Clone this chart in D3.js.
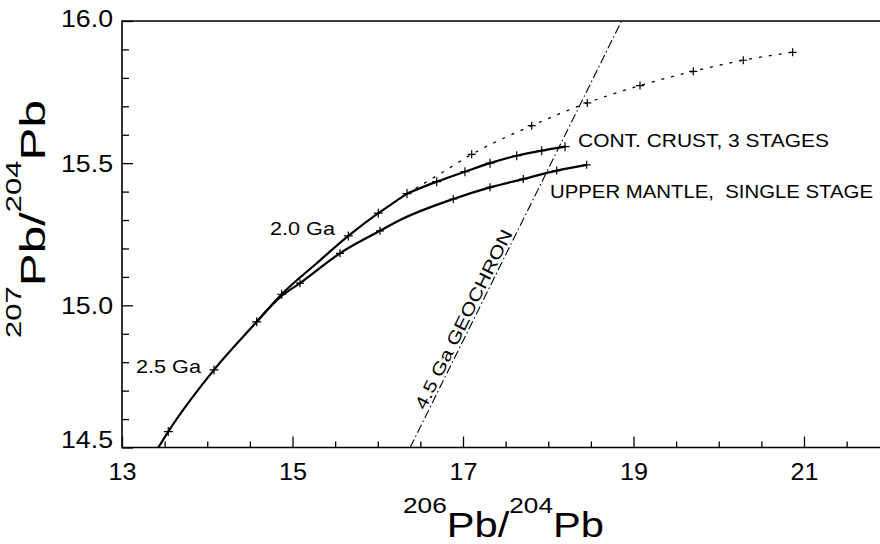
<!DOCTYPE html>
<html><head><meta charset="utf-8">
<script src="https://cdn.jsdelivr.net/npm/d3@7"></script>
<style>
body{margin:0;background:#fff}
svg{display:block}
text{font-family:"Liberation Sans",Arial,Helvetica,sans-serif;fill:#000}
</style>
</head><body>
<svg id="c" width="880" height="544"></svg>
<script>
// ---- axis ticks ----
const xMajor = [13, 15, 17, 19, 21];
const xMinor = [13.5, 14, 14.5, 15.5, 16, 16.5, 17.5, 18, 18.5, 19.5, 20, 20.5, 21.5];
const yMajor = [14.5, 15.0, 15.5, 16.0];
const yMinor = [14.6, 14.7, 14.8, 14.9, 15.1, 15.2, 15.3, 15.4, 15.6, 15.7, 15.8, 15.9];

// ---- continental crust, 3 stages (solid; stage 2 then stage 3) ----
const crustS2X = [13.426, 13.543, 14.079, 14.580, 14.873, 15.284, 15.655, 16.006, 16.261, 16.343];
const crustS2Y = [14.500, 14.556, 14.773, 14.942, 15.039, 15.148, 15.244, 15.324, 15.376, 15.393];
const crustS3X = [16.343, 16.692, 17.023, 17.317, 17.630, 17.923, 18.197];
const crustS3Y = [15.393, 15.435, 15.470, 15.500, 15.526, 15.544, 15.558];
const crustMarkX = [13.543, 14.079, 14.580, 14.873, 15.655, 16.006, 16.343, 16.692, 17.023, 17.317, 17.630, 17.923, 18.197];
const crustMarkY = [14.556, 14.773, 14.942, 15.039, 15.244, 15.324, 15.393, 15.435, 15.470, 15.500, 15.526, 15.544, 15.558];

// ---- stage-2 continuation (dotted) ----
const dotX = [16.343, 16.765, 17.102, 17.806, 18.458, 19.076, 19.701, 20.288, 20.867];
const dotY = [15.393, 15.469, 15.531, 15.632, 15.712, 15.773, 15.823, 15.862, 15.890];
const dotMarkX = [17.102, 17.806, 18.458, 19.076, 19.701, 20.288, 20.867];
const dotMarkY = [15.531, 15.632, 15.712, 15.773, 15.823, 15.862, 15.890];

// ---- upper mantle, single stage (solid) ----
const mantleX = [14.580, 14.873, 15.088, 15.557, 16.026, 16.261, 16.886, 17.317, 17.707, 18.099, 18.451];
const mantleY = [14.942, 15.033, 15.078, 15.183, 15.262, 15.300, 15.374, 15.415, 15.444, 15.474, 15.494];
const mantleMarkX = [15.088, 15.557, 16.026, 16.886, 17.317, 17.707, 18.099, 18.451];
const mantleMarkY = [15.078, 15.183, 15.262, 15.374, 15.415, 15.444, 15.474, 15.494];

// ---- 4.5 Ga geochron ----
const geoX = [16.38, 18.86];
const geoY = [14.50, 16.00];

// ---- scales ----
const svg = d3.select("#c");
const x = d3.scaleLinear().domain([13, 22]).range([122, 122 + 9 * 85.25]);
const y = d3.scaleLinear().domain([14.5, 16.0]).range([447.5, 21]);
const X0 = 122, Y0 = 447.5, YT = 21, XR = 880;

const zip = (a, b) => a.map((v, i) => [v, b[i]]);
const line = d3.line().x(d => x(d[0])).y(d => y(d[1])).curve(d3.curveMonotoneX);

// ---- axes ----
const gx = svg.append("g").attr("transform", `translate(0,${Y0})`);
gx.call(d3.axisBottom(x).tickValues(xMajor).tickSize(-11).tickPadding(15).tickFormat(d3.format("d")));
gx.call(g => g.select(".domain").remove());
gx.selectAll("text").attr("font-size", 24).attr("font-family", null)
  .attr("textLength", 28).attr("lengthAdjust", "spacingAndGlyphs");
gx.selectAll("line").attr("stroke-width", 1.3);
const gxm = svg.append("g").attr("transform", `translate(0,${Y0})`);
gxm.call(d3.axisBottom(x).tickValues(xMinor).tickSize(-6).tickFormat(""));
gxm.call(g => g.select(".domain").remove());
gxm.selectAll("line").attr("stroke-width", 1.3);

const gy = svg.append("g").attr("transform", `translate(${X0},0)`);
gy.call(d3.axisLeft(y).tickValues(yMajor).tickSize(-11).tickPadding(9).tickFormat(d3.format(".1f")));
gy.call(g => g.select(".domain").remove());
gy.selectAll("text").attr("font-size", 24).attr("font-family", null)
  .attr("textLength", 52).attr("lengthAdjust", "spacingAndGlyphs")
  .attr("dy", d => d === 14.5 ? "-0.02em" : (d === 16.0 ? "0.24em" : "0.34em"));
gy.selectAll("line").attr("stroke-width", 1.3);
const gym = svg.append("g").attr("transform", `translate(${X0},0)`);
gym.call(d3.axisLeft(y).tickValues(yMinor).tickSize(-7).tickFormat(""));
gym.call(g => g.select(".domain").remove());
gym.selectAll("line").attr("stroke-width", 1.3);

// frame (left, bottom, top)
svg.append("path")
  .attr("d", `M${XR},${YT}H${X0}V${Y0}H${XR}`)
  .attr("fill", "none").attr("stroke", "#000").attr("stroke-width", 1.6);

// ---- clip ----
svg.append("clipPath").attr("id", "clip")
  .append("rect").attr("x", X0).attr("y", YT).attr("width", XR - X0).attr("height", Y0 - YT);
const plot = svg.append("g").attr("clip-path", "url(#clip)");

// geochron
plot.append("line")
  .attr("x1", x(geoX[0])).attr("y1", y(geoY[0]))
  .attr("x2", x(geoX[1])).attr("y2", y(geoY[1]))
  .attr("stroke", "#000").attr("stroke-width", 1.1)
  .attr("stroke-dasharray", "9,3,1.5,3");

// curves
plot.append("path").attr("d", line(zip(dotX, dotY)))
  .attr("fill", "none").attr("stroke", "#000").attr("stroke-width", 1.3).attr("stroke-dasharray", "3,7");
plot.append("path").attr("d", line(zip(crustS2X, crustS2Y)))
  .attr("fill", "none").attr("stroke", "#000").attr("stroke-width", 2.2);
plot.append("path").attr("d", line(zip(crustS3X, crustS3Y)))
  .attr("fill", "none").attr("stroke", "#000").attr("stroke-width", 2.2);
plot.append("path").attr("d", line(zip(mantleX, mantleY)))
  .attr("fill", "none").attr("stroke", "#000").attr("stroke-width", 2.2);

// + markers
function plus(xs, ys, r) {
  plot.append("g").selectAll("path").data(zip(xs, ys)).join("path")
    .attr("d", d => `M${x(d[0]) - r},${y(d[1])}h${2 * r}M${x(d[0])},${y(d[1]) - r}v${2 * r}`)
    .attr("stroke", "#000").attr("stroke-width", 1.2).attr("fill", "none");
}
plus(crustMarkX, crustMarkY, 4.5);
plus(mantleMarkX, mantleMarkY, 4);
plus(dotMarkX, dotMarkY, 4);

// ---- labels ----
function label(t, px, py, len, size) {
  svg.append("text").attr("x", px).attr("y", py).attr("font-size", size)
    .attr("textLength", len).attr("lengthAdjust", "spacingAndGlyphs").text(t);
}
label("CONT. CRUST, 3 STAGES", 578, 147, 251, 18.5);
label("UPPER MANTLE,\u00a0 SINGLE STAGE", 550, 198, 323, 18.5);
label("2.0 Ga", 270, 235, 65, 18.5);
label("2.5 Ga", 136, 373, 65, 18.5);

// geochron label along the line
{
  const ax = x(geoX[0]), ay = y(geoY[0]), bx = x(geoX[1]), by = y(geoY[1]);
  const ang = Math.atan2(by - ay, bx - ax);
  const t0 = (ay - 412) / (ay - by);
  const px = ax + (bx - ax) * t0, py = ay + (by - ay) * t0;
  const ux = Math.sin(ang), uy = -Math.cos(ang); // "up" normal
  svg.append("text")
    .attr("transform", `translate(${px + ux * 3},${py + uy * 3}) rotate(${ang * 180 / Math.PI})`)
    .attr("font-size", 17.5).attr("textLength", 198).attr("lengthAdjust", "spacingAndGlyphs")
    .text("4.5 Ga GEOCHRON");
}

// axis titles
{
  const t = svg.append("text").attr("x", 403).attr("y", 537).attr("font-size", 35)
    .attr("textLength", 201).attr("lengthAdjust", "spacingAndGlyphs");
  t.append("tspan").attr("font-size", 22).attr("dy", -24).text("206");
  t.append("tspan").attr("dy", 24).text("Pb/");
  t.append("tspan").attr("font-size", 22).attr("dy", -24).text("204");
  t.append("tspan").attr("dy", 24).text("Pb");
}
{
  const t = svg.append("text").attr("transform", "translate(45,338) rotate(-90)").attr("font-size", 35)
    .attr("textLength", 238).attr("lengthAdjust", "spacingAndGlyphs");
  t.append("tspan").attr("font-size", 22).attr("dy", -24).text("207");
  t.append("tspan").attr("dy", 24).text("Pb/");
  t.append("tspan").attr("font-size", 22).attr("dy", -24).text("204");
  t.append("tspan").attr("dy", 24).text("Pb");
}
</script>
</body></html>
